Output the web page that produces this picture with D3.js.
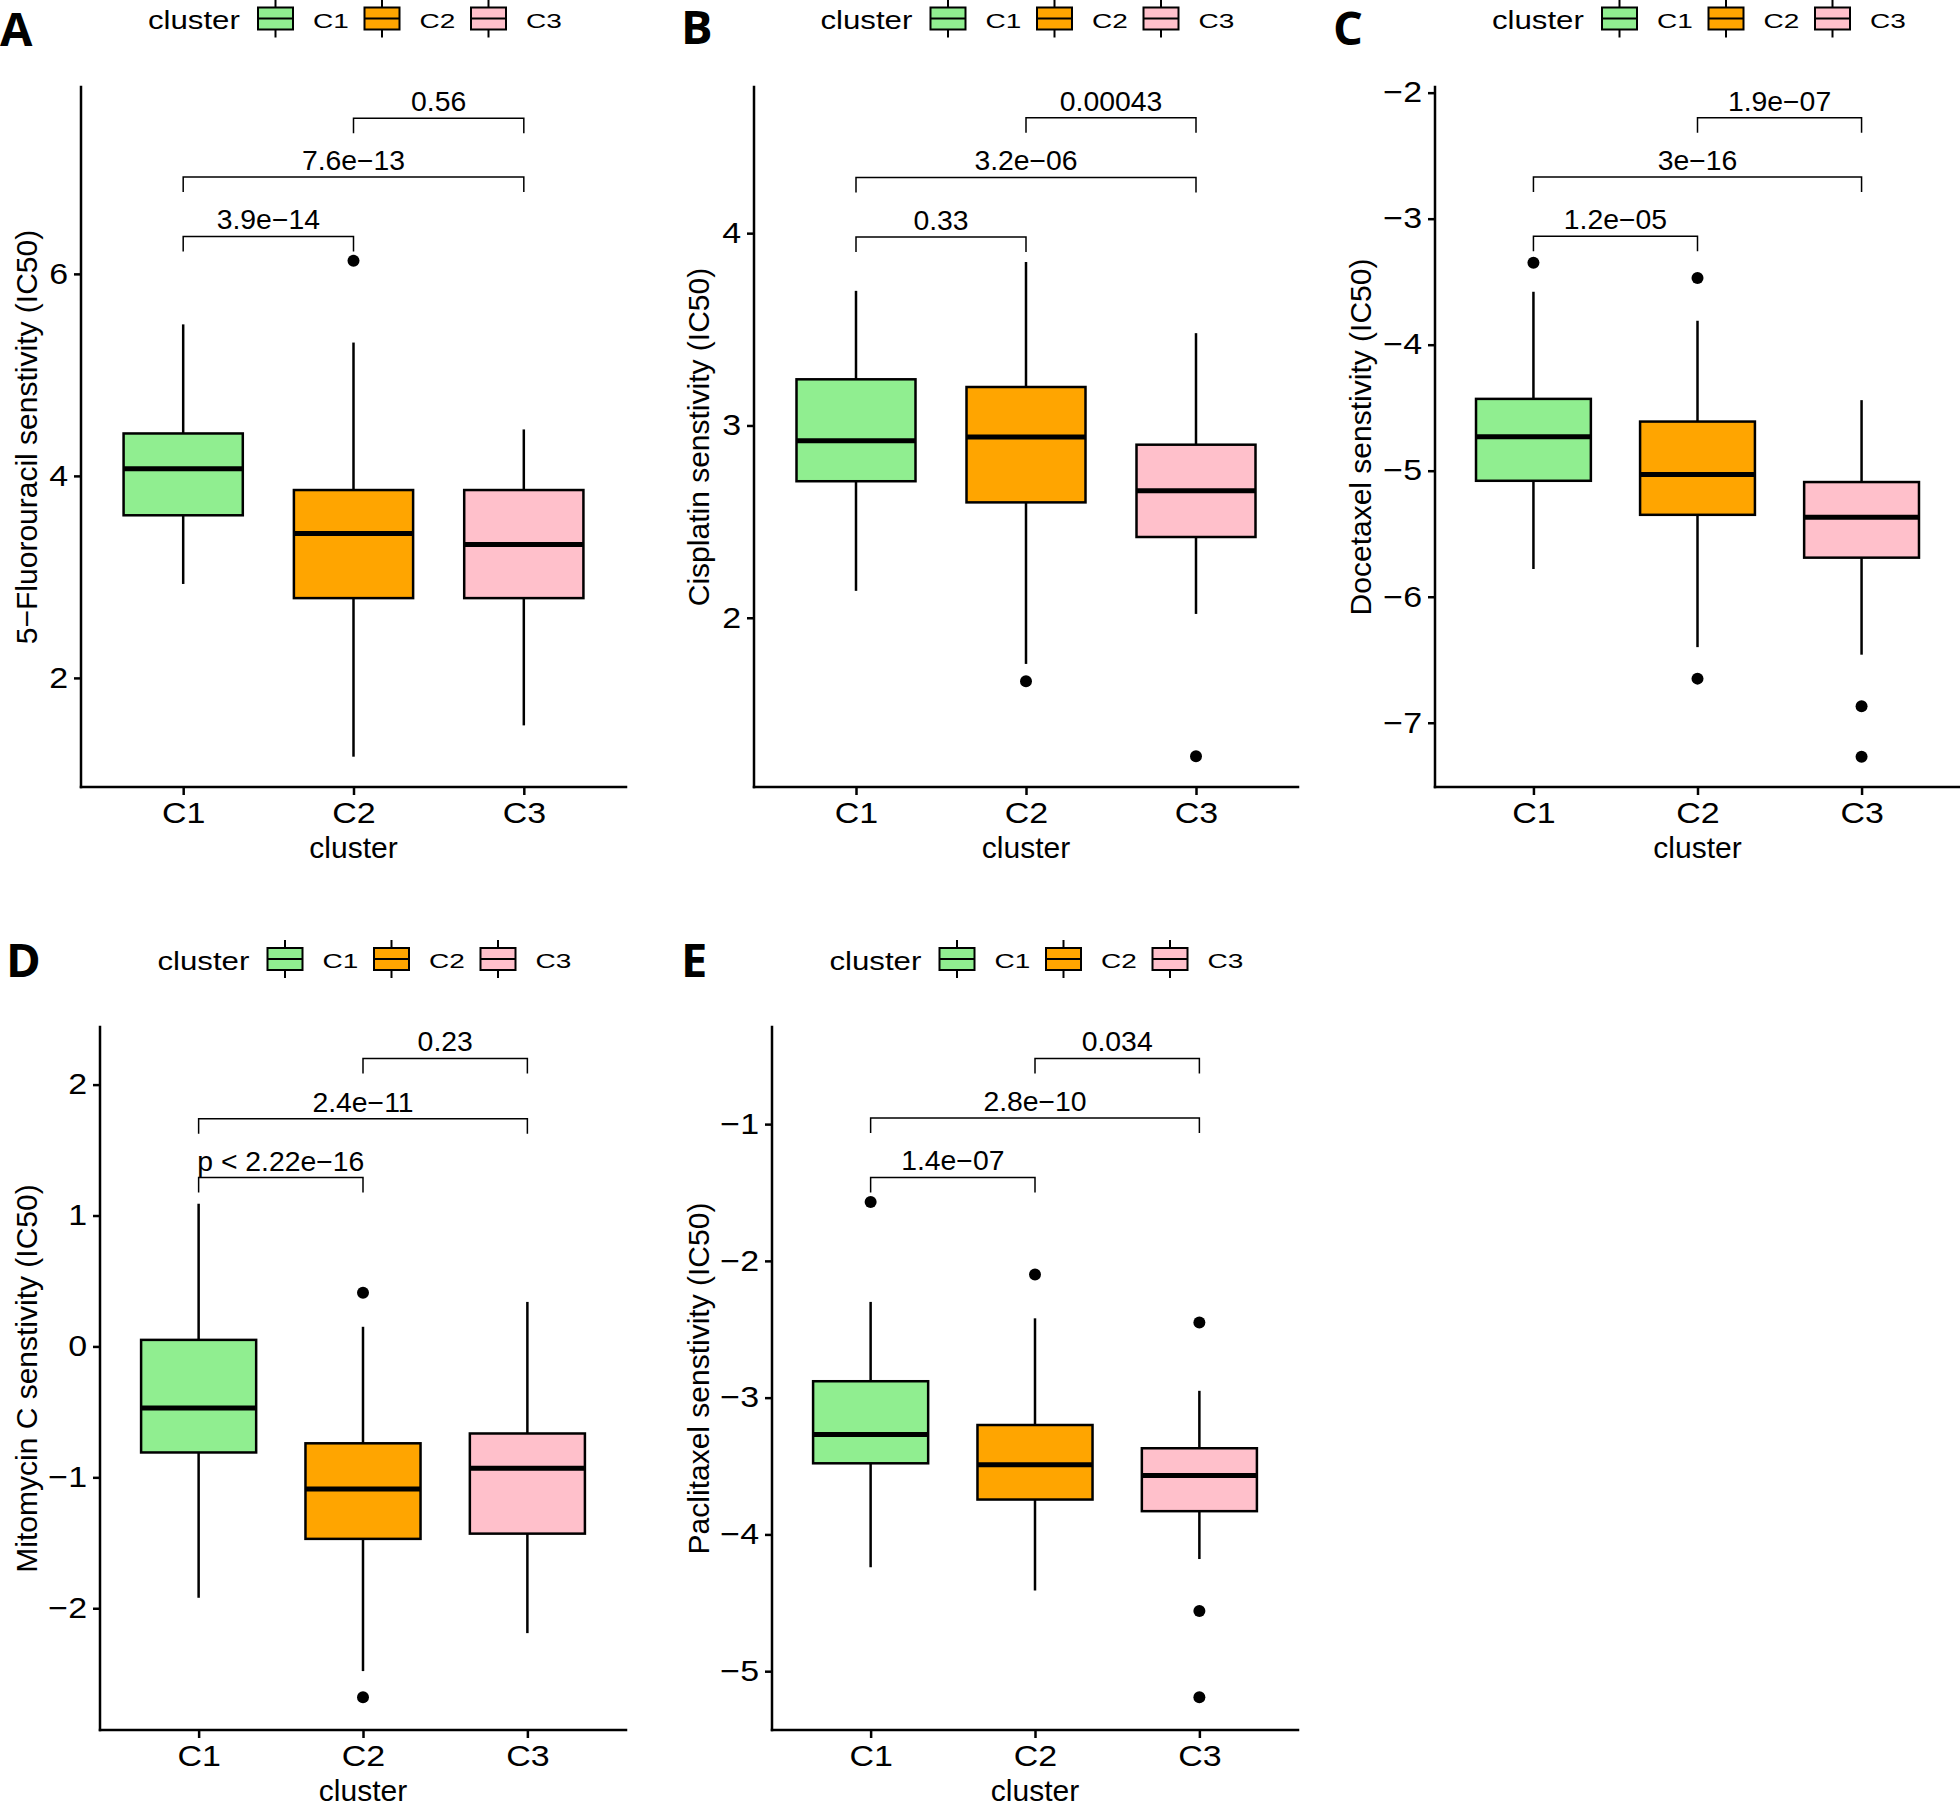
<!DOCTYPE html>
<meta charset="utf-8">
<head>
  <title>Drug sensitivity by cluster</title>
</head>
<body>
<style>
  html, body {
    margin: 0;
    padding: 0;
    background: #fff;
  }

  svg {
    display: block;
    font-family: "Liberation Sans", Arial, sans-serif;
  }

  .axis path, .axis line {
    stroke: #000;
    stroke-width: 2.5px;
  }

  .axis path {
    stroke-linecap: square;
  }

  .axis text {
    font-family: "Liberation Sans", Arial, sans-serif;
    font-size: 29px;
    fill: #000;
  }

  .panel-letter {
    font-family: "Open Sans", sans-serif;
    font-weight: 700;
    font-size: 47px;
  }

  .axis-title {
    font-size: 30px;
  }

  .bracket {
    fill: none;
    stroke: #000;
    stroke-width: 1.5px;
  }

  .p-label {
    font-size: 27px;
  }

  .box, .whisker, .median {
    stroke: #000;
  }
</style>
<div class="figure"></div>
<script src="https://d3js.org/d3.v7.min.js"></script>
<script>

(function() {

var clusters = ["C1", "C2", "C3"],
    clusterColors = ["#90EE90", "#FFA500", "#FFC0CB"];

var panelLetters = ["A", "B", "C", "D", "E"];

var yTitles = [
  "5\u2212Fluorouracil senstivity (IC50)",
  "Cisplatin senstivity (IC50)",
  "Docetaxel senstivity (IC50)",
  "Mitomycin C senstivity (IC50)",
  "Paclitaxel senstivity (IC50)"
];

// per cluster: [lower whisker, Q1, median, Q3, upper whisker]
var fluorouracilBoxes = [[2.93, 3.61, 4.07, 4.42, 5.50], [1.22, 2.79, 3.43, 3.86, 5.32], [1.53, 2.79, 3.32, 3.86, 4.46]];
var fluorouracilOutliers = [[], [6.13], []];

var cisplatinBoxes = [[2.14, 2.71, 2.92, 3.24, 3.70], [1.76, 2.60, 2.94, 3.20, 3.85], [2.02, 2.42, 2.66, 2.90, 3.48]];
var cisplatinOutliers = [[], [1.67], [1.28]];

var docetaxelBoxes = [[-5.78, -5.08, -4.73, -4.43, -3.58], [-6.40, -5.35, -5.03, -4.61, -3.81], [-6.46, -5.69, -5.37, -5.09, -4.44]];
var docetaxelOutliers = [[-3.35], [-3.47, -6.65], [-6.87, -7.27]];

var mitomycinBoxes = [[-1.92, -0.81, -0.47, 0.05, 1.09], [-2.48, -1.47, -1.09, -0.74, 0.15], [-2.19, -1.43, -0.93, -0.665, 0.34]];
var mitomycinOutliers = [[], [0.41, -2.68], []];

var paclitaxelBoxes = [[-4.24, -3.48, -3.27, -2.88, -2.30], [-4.41, -3.745, -3.49, -3.20, -2.42], [-4.18, -3.83, -3.57, -3.37, -2.95]];
var paclitaxelOutliers = [[-1.57], [-2.10], [-2.45, -4.56, -5.19]];

// comparisons in drawing order: C1 vs C2, C1 vs C3, C2 vs C3
var comparisons = [[0, 1], [0, 2], [1, 2]];

var fluorouracilP = ["3.9e\u221214", "7.6e\u221213", "0.56"],
    cisplatinP = ["0.33", "3.2e\u221206", "0.00043"],
    docetaxelP = ["1.2e\u221205", "3e\u221216", "1.9e\u221207"],
    mitomycinP = ["p < 2.22e\u221216", "2.4e\u221211", "0.23"],
    paclitaxelP = ["1.4e\u221207", "2.8e\u221210", "0.034"];

var fluorouracilBracketY = [6.37, 6.96, 7.54],
    cisplatinBracketY = [3.98, 4.29, 4.60],
    docetaxelBracketY = [-3.14, -2.67, -2.20],
    mitomycinBracketY = [1.29, 1.74, 2.20],
    paclitaxelBracketY = [-1.39, -0.955, -0.52];

var yDomains = [[0.92, 7.85], [1.12, 4.76], [-7.51, -1.955], [-2.93, 2.44], [-5.43, -0.29]];
var yTicks = [[2, 4, 6], [2, 3, 4], [-7, -6, -5, -4, -3, -2], [-2, -1, 0, 1, 2], [-5, -4, -3, -2, -1]];

var allBoxes = [fluorouracilBoxes, cisplatinBoxes, docetaxelBoxes, mitomycinBoxes, paclitaxelBoxes],
    allOutliers = [fluorouracilOutliers, cisplatinOutliers, docetaxelOutliers, mitomycinOutliers, paclitaxelOutliers],
    allP = [fluorouracilP, cisplatinP, docetaxelP, mitomycinP, paclitaxelP],
    allBracketY = [fluorouracilBracketY, cisplatinBracketY, docetaxelBracketY, mitomycinBracketY, paclitaxelBracketY];

// panel frames on the page
var frames = [
  {left: 81,   right: 626,  top: 87,   bottom: 787,  letterX: 0,    letterY: 46,  legendY: 18.5, titleX: 37},
  {left: 754,  right: 1298, top: 87,   bottom: 787,  letterX: 681,  letterY: 44,  legendY: 18.5, titleX: 709},
  {left: 1435, right: 1960, top: 87,   bottom: 787,  letterX: 1333, letterY: 45,  legendY: 18.5, titleX: 1371},
  {left: 100,  right: 626,  top: 1027, bottom: 1730, letterX: 6,    letterY: 977, legendY: 959,  titleX: 37},
  {left: 772,  right: 1298, top: 1027, bottom: 1730, letterX: 681,  letterY: 977, legendY: 959,  titleX: 709}
];

var width = 1960,
    height = 1802;

var svg = d3.select(".figure").append("svg")
    .attr("width", width)
    .attr("height", height);

svg.append("rect")
    .attr("width", width)
    .attr("height", height)
    .attr("fill", "#fff");

frames.forEach(function(f, i) {
  drawPanel(f, i);
});

// text drawn a little wider than the font, as in the original export
function wideText(parent, x, y, str, size, sx, anchor) {
  return parent.append("text")
      .attr("transform", "translate(" + x + "," + y + ") scale(" + sx + ",1)")
      .attr("text-anchor", anchor || "start")
      .style("font-size", size + "px")
      .text(str);
}

function drawPanel(f, i) {
  var g = svg.append("g").attr("class", "panel");

  var x = d3.scalePoint()
      .domain(clusters)
      .range([f.left, f.right])
      .padding(0.6);

  var y = d3.scaleLinear()
      .domain(yDomains[i])
      .range([f.bottom, f.top]);

  var boxW = x.step() * 0.7;

  var data = allBoxes[i].map(function(s, k) {
    return {cluster: clusters[k], color: clusterColors[k], s: s, out: allOutliers[i][k]};
  });

  var boxes = g.selectAll(".boxplot")
      .data(data)
    .enter().append("g")
      .attr("class", "boxplot");

  boxes.append("line")
      .attr("class", "whisker")
      .attr("x1", function(d) { return x(d.cluster); })
      .attr("x2", function(d) { return x(d.cluster); })
      .attr("y1", function(d) { return y(d.s[4]); })
      .attr("y2", function(d) { return y(d.s[3]); })
      .style("stroke-width", 2.5);

  boxes.append("line")
      .attr("class", "whisker")
      .attr("x1", function(d) { return x(d.cluster); })
      .attr("x2", function(d) { return x(d.cluster); })
      .attr("y1", function(d) { return y(d.s[1]); })
      .attr("y2", function(d) { return y(d.s[0]); })
      .style("stroke-width", 2.5);

  boxes.append("rect")
      .attr("class", "box")
      .attr("x", function(d) { return x(d.cluster) - boxW / 2; })
      .attr("width", boxW)
      .attr("y", function(d) { return y(d.s[3]); })
      .attr("height", function(d) { return y(d.s[1]) - y(d.s[3]); })
      .style("fill", function(d) { return d.color; })
      .style("stroke-width", 2.5);

  boxes.append("line")
      .attr("class", "median")
      .attr("x1", function(d) { return x(d.cluster) - boxW / 2; })
      .attr("x2", function(d) { return x(d.cluster) + boxW / 2; })
      .attr("y1", function(d) { return y(d.s[2]); })
      .attr("y2", function(d) { return y(d.s[2]); })
      .style("stroke-width", 5);

  boxes.selectAll("circle")
      .data(function(d) { return d.out.map(function(v) { return {cluster: d.cluster, v: v}; }); })
    .enter().append("circle")
      .attr("cx", function(d) { return x(d.cluster); })
      .attr("cy", function(d) { return y(d.v); })
      .attr("r", 6)
      .style("fill", "#000");

  // significance brackets
  var tip = 15;
  comparisons.forEach(function(c, k) {
    var xa = x(clusters[c[0]]),
        xb = x(clusters[c[1]]),
        yb = y(allBracketY[i][k]);
    g.append("path")
        .attr("class", "bracket")
        .attr("d", "M" + xa + "," + (yb + tip) + "V" + yb + "H" + xb + "V" + (yb + tip));
    wideText(g, (xa + xb) / 2, yb - 7, allP[i][k], 27, 1.05, "middle")
        .attr("class", "p-label");
  });

  // axes
  var yAxis = g.append("g")
      .attr("class", "axis")
      .attr("transform", "translate(" + f.left + ",0)")
      .call(d3.axisLeft(y).tickValues(yTicks[i]).tickFormat(d3.format("d"))
        .tickSize(7).tickSizeOuter(0).tickPadding(6));

  yAxis.selectAll("text")
      .attr("transform", "scale(1.17,1)")
      .attr("x", -13 / 1.17);

  var xAxis = g.append("g")
      .attr("class", "axis")
      .attr("transform", "translate(0," + f.bottom + ")")
      .call(d3.axisBottom(x).tickSize(8).tickSizeOuter(0).tickPadding(7));

  xAxis.selectAll("text")
      .attr("transform", "scale(1.17,1)")
      .attr("x", 0);

  xAxis.select(".domain").attr("d", "M" + f.left + ",0H" + f.right);
  yAxis.select(".domain").attr("d", "M0," + f.bottom + "V" + f.top);

  // axis titles
  g.append("text")
      .attr("class", "axis-title")
      .attr("text-anchor", "middle")
      .attr("transform", "translate(" + f.titleX + "," + ((f.top + f.bottom) / 2) + ") rotate(-90)")
      .text(yTitles[i]);

  g.append("text")
      .attr("class", "axis-title")
      .attr("text-anchor", "middle")
      .attr("x", (f.left + f.right) / 2)
      .attr("y", f.bottom + 71)
      .text("cluster");

  // panel letter
  g.append("text")
      .attr("class", "panel-letter")
      .attr("x", f.letterX)
      .attr("y", f.letterY)
      .text(panelLetters[i]);

  drawLegend(g, (f.left + f.right) / 2, f.legendY);
}

function drawLegend(parent, cx, cy) {
  var lg = parent.append("g").attr("class", "legend");

  wideText(lg, cx - 205.5, cy + 10.5, "cluster", 26, 1.2);

  var keys = lg.selectAll(".key")
      .data(clusters)
    .enter().append("g")
      .attr("class", "key")
      .attr("transform", function(d, k) { return "translate(" + (cx - 95.5 + k * 106.5) + "," + cy + ")"; });

  keys.append("line")
      .attr("x1", 17.5).attr("x2", 17.5)
      .attr("y1", -19).attr("y2", 19)
      .style("stroke", "#000")
      .style("stroke-width", 2);

  keys.append("rect")
      .attr("x", 0)
      .attr("y", -11)
      .attr("width", 35)
      .attr("height", 22)
      .style("fill", function(d, k) { return clusterColors[k]; })
      .style("stroke", "#000")
      .style("stroke-width", 2);

  keys.append("line")
      .attr("x1", 0).attr("x2", 35)
      .attr("y1", 0).attr("y2", 0)
      .style("stroke", "#000")
      .style("stroke-width", 2);

  keys.each(function(d) {
    wideText(d3.select(this), 55, 9, d, 20, 1.4);
  });
}

})();

</script>
</body>
